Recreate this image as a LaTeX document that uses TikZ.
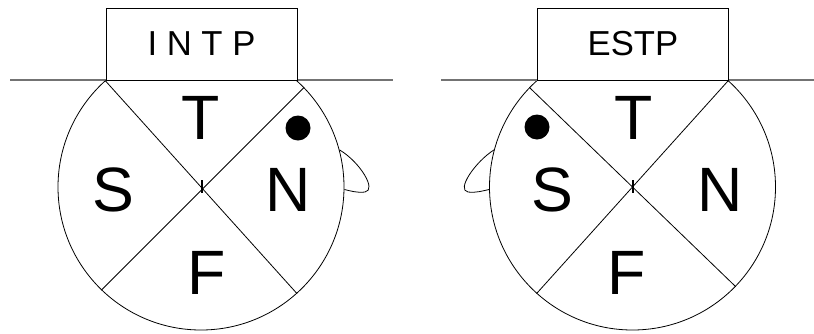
\documentclass[tikz,border=0pt]{standalone}
\usepackage{fontspec}
\setmainfont{Liberation Sans}
\usepackage{tikz}

\begin{document}
\begin{tikzpicture}[
        x=0.75pt, y=-0.75pt,
        namebox/.style={
            rectangle,
            draw,
            fill=white,
            line width=0.6pt,
            minimum width=143.25pt,
            minimum height=54pt,
            font=\fontsize{26pt}{28pt}\selectfont,
            inner sep=0pt
        },
        face/.style={
            circle,
            draw,
            line width=0.6pt,
            minimum size=214.5pt,
            inner sep=0pt
        },
        letter/.style={
            inner sep=0pt,
            font=\fontsize{47pt}{50pt}\selectfont
        },
        eye/.style={circle, fill=black, minimum size=18.75pt, inner sep=0pt},
        ground/.style={line width=1pt, black!55},
        split/.style={line width=0.6pt},
        tick/.style={line width=1.2pt}
    ]
        \useasboundingbox (0,0) rectangle (814,333);

        % left figure
        \coordinate (lleft) at (10,80);
        \coordinate (lright) at (393,80);
        \node[face] (lface) at (201,187) {};
        \draw[ground] (lleft) -- (lright);
        \node[namebox] (lname) at (201.5,44) {I N T P};
        \draw[split] (lface.132) -- (lface.312);
        \draw[split] (lface.44) -- (lface.226);
        \coordinate (ltop) at (202,180);
        \coordinate (lbot) at (202,193);
        \draw[tick] (ltop) -- (lbot);
        \node[letter] (lT) at (201,118) {T};
        \node[letter] (lS) at (113,190) {S};
        \node[letter] (lN) at (288,190) {N};
        \node[letter] (lF) at (207,273) {F};
        \node[eye] (leye) at (298,128) {};
        \draw[split] (lface.15) .. controls (360,162) and (377,190) .. (365,192)
            .. controls (357,193) and (351,191) .. (lface.-1);

        % right figure
        \coordinate (rleft) at (441,80);
        \coordinate (rright) at (814,80);
        \node[face] (rface) at (632.5,187) {};
        \draw[ground] (rleft) -- (rright);
        \node[namebox] (rname) at (633,44) {ESTP};
        \draw[split] (rface.48) -- (rface.228);
        \draw[split] (rface.136) -- (rface.316);
        \coordinate (rtop) at (633,180);
        \coordinate (rbot) at (633,193);
        \draw[tick] (rtop) -- (rbot);
        \node[letter] (rT) at (634,118) {T};
        \node[letter] (rS) at (552,190) {S};
        \node[letter] (rN) at (720,190) {N};
        \node[letter] (rF) at (627,273) {F};
        \node[eye] (reye) at (537,127) {};
        \draw[split] (rface.165) .. controls (475,162) and (456,190) .. (468,192)
            .. controls (476,193) and (482,191) .. (rface.181);
    \end{tikzpicture}
\end{document}
